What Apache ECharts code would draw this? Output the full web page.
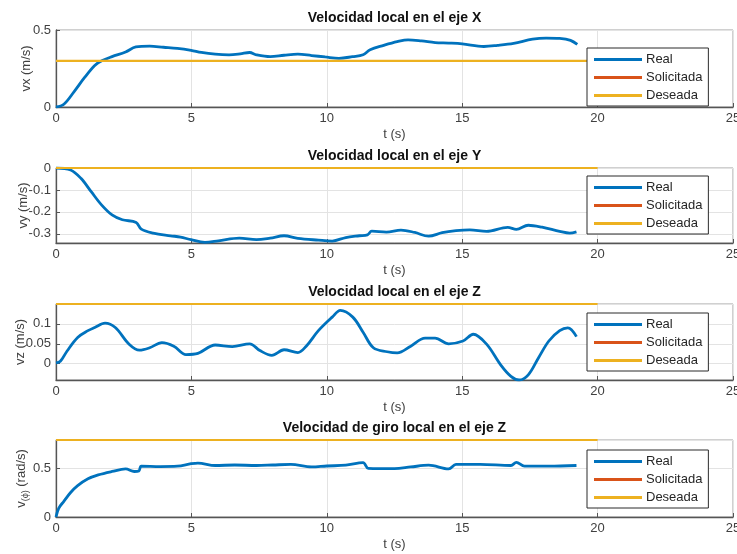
<!DOCTYPE html>
<html>
<head>
<meta charset="utf-8">
<script src="https://cdn.jsdelivr.net/npm/echarts@6/dist/echarts.min.js"></script>
<style>
  html, body { margin: 0; padding: 0; background: #fff; }
  #chart { width: 737px; height: 554px; }
</style>
</head>
<body>
<div id="chart"></div>
<script>
// Local velocity along X (m/s)
const tX = [0, 0.29, 0.67, 1.05, 1.43, 1.69, 2.07, 2.57, 2.95, 3.46, 3.97, 4.48, 4.99, 5.37, 5.88, 6.39, 6.8, 7.15, 7.4, 7.91, 8.42, 8.93, 9.44, 9.94, 10.45, 10.95, 11.34, 11.6, 12.1, 12.6, 13.0, 13.5, 14.0, 14.5, 15.0, 15.8, 16.3, 16.9, 17.6, 18.1, 18.6, 19.0, 19.25];
const vxReal = [0, 0.018, 0.10, 0.19, 0.27, 0.30, 0.327, 0.357, 0.39, 0.395, 0.388, 0.381, 0.368, 0.354, 0.343, 0.339, 0.345, 0.354, 0.339, 0.327, 0.336, 0.343, 0.334, 0.325, 0.316, 0.327, 0.339, 0.372, 0.40, 0.424, 0.436, 0.429, 0.418, 0.415, 0.41, 0.393, 0.40, 0.413, 0.44, 0.447, 0.445, 0.433, 0.406];

// Local velocity along Y (m/s)
const tY = [0, 0.54, 0.92, 1.30, 1.68, 2.07, 2.45, 2.96, 3.15, 3.59, 4.23, 4.6, 4.99, 5.5, 6.0, 6.77, 7.4, 7.91, 8.42, 8.93, 9.69, 10.2, 10.7, 11.2, 11.5, 11.66, 12.2, 12.74, 13.25, 13.76, 14.26, 14.77, 15.28, 15.9, 16.68, 17.0, 17.44, 17.95, 18.6, 18.97, 19.22];
const vyReal = [0, -0.009, -0.047, -0.108, -0.168, -0.214, -0.236, -0.248, -0.279, -0.297, -0.309, -0.315, -0.327, -0.339, -0.332, -0.32, -0.327, -0.32, -0.309, -0.321, -0.329, -0.333, -0.317, -0.309, -0.305, -0.288, -0.292, -0.283, -0.294, -0.311, -0.295, -0.286, -0.282, -0.289, -0.271, -0.28, -0.261, -0.27, -0.289, -0.297, -0.291];

// Local velocity along Z (m/s)
const tZ = [0, 0.16, 0.41, 0.8, 1.18, 1.43, 1.81, 2.19, 2.70, 3.08, 3.46, 3.91, 4.35, 4.8, 5.24, 5.88, 6.51, 7.15, 7.53, 7.97, 8.42, 8.93, 9.24, 9.69, 10.2, 10.5, 10.96, 11.34, 11.72, 12.23, 12.6, 13.1, 13.63, 14.0, 14.5, 15.03, 15.41, 15.9, 16.42, 16.8, 17.1, 17.44, 17.82, 18.2, 18.6, 18.9, 19.22];
const vzReal = [0.002, 0.006, 0.032, 0.066, 0.083, 0.091, 0.102, 0.091, 0.049, 0.034, 0.04, 0.053, 0.044, 0.023, 0.026, 0.047, 0.043, 0.05, 0.033, 0.021, 0.035, 0.028, 0.044, 0.083, 0.117, 0.134, 0.117, 0.079, 0.04, 0.03, 0.027, 0.044, 0.064, 0.064, 0.05, 0.057, 0.074, 0.049, -0.003, -0.032, -0.041, -0.028, 0.015, 0.057, 0.083, 0.09, 0.068];

// Local yaw rate around Z (rad/s)
const tW = [0, 0.1, 0.29, 0.54, 0.8, 1.18, 1.56, 2.07, 2.57, 2.89, 3.06, 3.15, 3.85, 4.48, 4.99, 5.24, 5.88, 6.6, 7.4, 8.0, 8.67, 9.44, 10.0, 10.7, 11.34, 11.53, 12.5, 13.1, 13.76, 14.5, 14.77, 15.66, 16.8, 17.0, 17.3, 18.2, 19.22];
const wzReal = [0, 0.089, 0.16, 0.25, 0.32, 0.39, 0.43, 0.464, 0.49, 0.464, 0.47, 0.518, 0.514, 0.518, 0.543, 0.55, 0.525, 0.53, 0.525, 0.53, 0.536, 0.51, 0.52, 0.528, 0.554, 0.496, 0.493, 0.51, 0.528, 0.49, 0.536, 0.536, 0.525, 0.557, 0.518, 0.518, 0.525];

// Desired references (constant from t = 0 to t = 20 s)
const tDeseada = [0, 20];
const vxDeseada = [0.3, 0.3];
const vyDeseada = [0, 0];
const vzDeseada = [0.15, 0.15];
const wzDeseada = [0.785, 0.785];

// Requested commands (no samples recorded)
const tSolicitada = [];
const vSolicitada = [];

const xTicks = [0, 5, 10, 15, 20, 25];
const titles = [
  'Velocidad local en el eje X',
  'Velocidad local en el eje Y',
  'Velocidad local en el eje Z',
  'Velocidad de giro local en el eje Z'
];
const legendNames = ['Real', 'Solicitada', 'Deseada'];

const FONT = '"Liberation Sans", Arial, Helvetica, sans-serif';
const C_REAL = '#0072BD', C_SOL = '#D95319', C_DES = '#EDB120';
const AX = '#555555', TXT = '#404040';

const pairs = (t, v) => t.map((x, i) => [x, v[i]]);

const panels = [
  { top: 30,  height: 77, t: tX, real: vxReal, des: vxDeseada,
    y: { min: 0, max: 0.5, interval: 0.5 }, name: 'vx (m/s)', gap: 23, legendTop: 48 },
  { top: 168, height: 75, t: tY, real: vyReal, des: vyDeseada,
    y: { min: -0.342, max: 0, splitNumber: 3 }, name: 'vy (m/s)', gap: 26, legendTop: 176, hideMin: true },
  { top: 304, height: 76, t: tZ, real: vzReal, des: vzDeseada,
    y: { min: -0.041, max: 0.15, splitNumber: 3 }, name: 'vz (m/s)', gap: 29, legendTop: 313, hideMin: true, hideMax: true },
  { top: 440, height: 77, t: tW, real: wzReal, des: wzDeseada,
    y: { min: 0, max: 0.785, interval: 0.5 }, name: '{n|v}{s|(ϕ)}{n| (rad/s)}', gap: 26, legendTop: 450, hideMax: true }
];

const grid = [], xAxis = [], yAxis = [], series = [], legend = [], graphic = [];

panels.forEach((p, i) => {
  grid.push({
    left: 56, top: p.top, width: 677, height: p.height,
    outerBoundsMode: 'none', containLabel: false,
    show: true, borderColor: '#a0a0a0', borderWidth: 1, backgroundColor: '#fff'
  });
  xAxis.push({
    gridIndex: i, type: 'value', min: 0, max: 25, interval: 5,
    name: 't (s)', nameLocation: 'middle', nameGap: 21, nameMoveOverlap: false,
    nameTextStyle: { fontFamily: FONT, fontSize: 13, color: TXT },
    axisLine: { show: true, onZero: false, lineStyle: { color: AX, width: 1.3 } },
    axisTick: { show: true, inside: true, length: 4, lineStyle: { color: AX } },
    axisLabel: { fontFamily: FONT, fontSize: 13, color: TXT, margin: 5, hideOverlap: false,
                 formatter: v => (xTicks.includes(v) ? String(v) : '') },
    splitLine: { show: true, lineStyle: { color: '#e3e3e3', width: 1 } }
  });
  yAxis.push(Object.assign({
    gridIndex: i, type: 'value',
    name: p.name, nameLocation: 'middle', nameGap: p.gap, nameMoveOverlap: false,
    nameTextStyle: {
      fontFamily: FONT, fontSize: 13, color: TXT,
      rich: {
        n: { fontFamily: FONT, fontSize: 13, color: TXT, lineHeight: 18 },
        s: { fontFamily: FONT, fontSize: 9, color: TXT, lineHeight: 18, verticalAlign: 'bottom', padding: [6, 0, 0, 0] }
      }
    },
    axisLine: { show: true, onZero: false, lineStyle: { color: AX, width: 1.3 } },
    axisTick: { show: true, inside: true, length: 4, lineStyle: { color: AX } },
    axisLabel: { fontFamily: FONT, fontSize: 13, color: TXT, margin: 5,
                 showMinLabel: !p.hideMin, showMaxLabel: !p.hideMax },
    splitLine: { show: true, lineStyle: { color: '#e3e3e3', width: 1 } }
  }, p.y));

  series.push({
    name: 'Real', type: 'line', xAxisIndex: i, yAxisIndex: i,
    data: pairs(p.t, p.real), showSymbol: false, symbol: 'none', smooth: 0.35,
    lineStyle: { color: C_REAL, width: 2.8 }, itemStyle: { color: C_REAL }, z: 3
  });
  series.push({
    name: 'Solicitada', type: 'line', xAxisIndex: i, yAxisIndex: i,
    data: pairs(tSolicitada, vSolicitada), showSymbol: false, symbol: 'none',
    lineStyle: { color: C_SOL, width: 2.2 }, itemStyle: { color: C_SOL }, z: 3
  });
  series.push({
    name: 'Deseada', type: 'line', xAxisIndex: i, yAxisIndex: i,
    data: pairs(tDeseada, p.des), showSymbol: false, symbol: 'none', clip: false,
    lineStyle: { color: C_DES, width: 2.2 }, itemStyle: { color: C_DES }, z: 3
  });

  legend.push({
    data: legendNames, orient: 'vertical', left: 587, top: p.legendTop,
    icon: 'rect', itemWidth: 48, itemHeight: 3, itemGap: 5,
    padding: [5, 6, 4, 7], backgroundColor: '#fff',
    borderColor: '#2b2b2b', borderWidth: 1, borderRadius: 0,
    textStyle: { fontFamily: FONT, fontSize: 13, color: '#262626', padding: [0, 0, 0, -1] },
    selectedMode: false, z: 10
  });

  graphic.push({
    type: 'text', x: 394.5, y: p.top - 12, z: 20,
    style: { text: titles[i], fill: '#111', fontFamily: FONT, fontSize: 14, fontWeight: 'bold',
             align: 'center', verticalAlign: 'middle' }
  });
});

const chart = echarts.init(document.getElementById('chart'), null, { renderer: 'canvas' });
chart.setOption({
  animation: false,
  backgroundColor: '#fff',
  grid, xAxis, yAxis, series, legend, graphic
});
</script>
</body>
</html>
